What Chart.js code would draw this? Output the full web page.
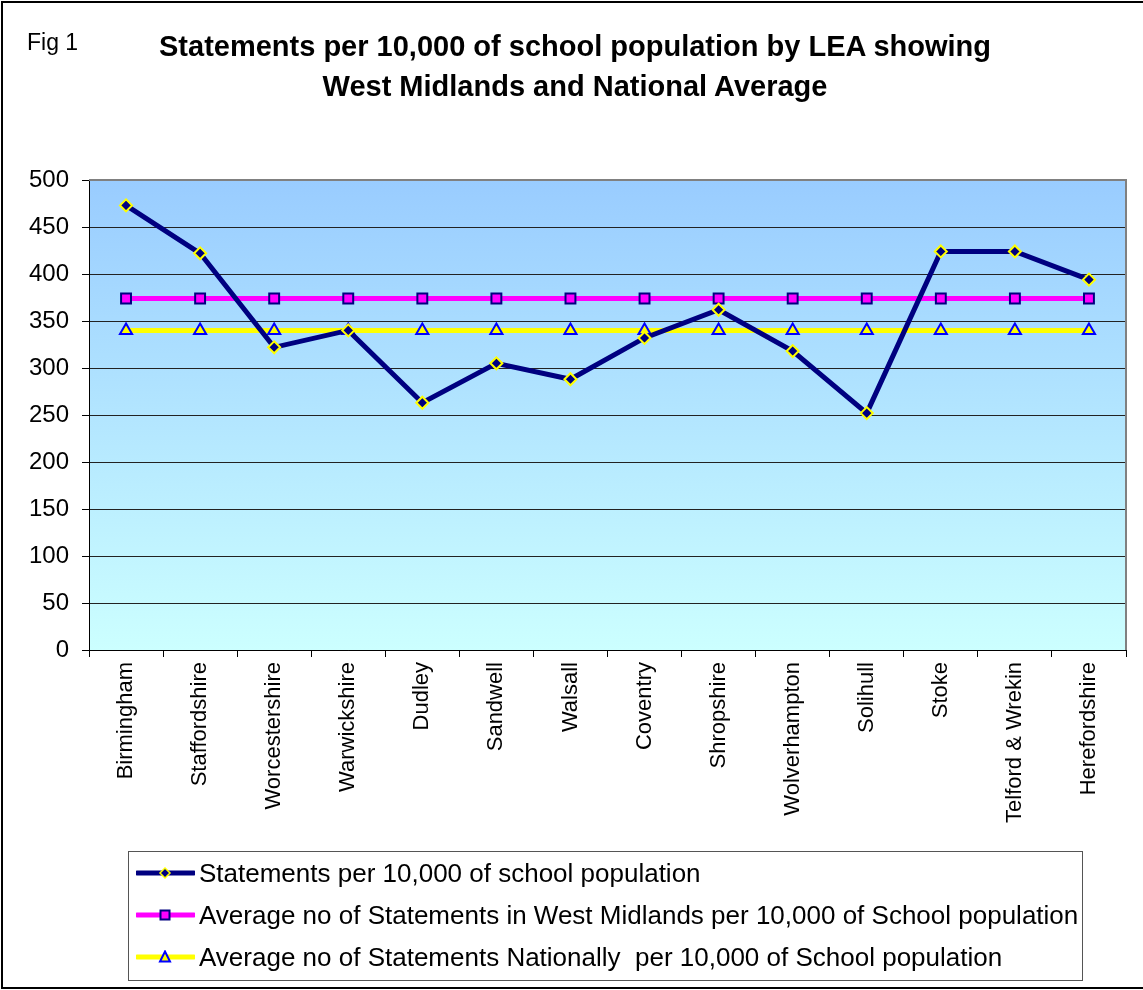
<!DOCTYPE html>
<html>
<head>
<meta charset="utf-8">
<script src="https://cdn.jsdelivr.net/npm/chart.js@4/dist/chart.umd.min.js"></script>
<style>
  html, body { margin: 0; padding: 0; background: #fff; }
  body { width: 1143px; height: 990px; position: relative; overflow: hidden; font-family: "Liberation Sans", Arial, sans-serif; }
  #frame { position: absolute; left: 1px; top: 1px; width: 1150px; height: 984px; border-left: 2px solid #000; border-top: 2px solid #000; border-bottom: 2px solid #000; }
  #wrap { position: absolute; left: 0; top: 0; width: 1143px; height: 990px; }
  #fig { position: absolute; left: 27px; top: 29px; font-size: 23px; color: #000; }
  .title { position: absolute; left: 0; width: 1150px; text-align: center; font-weight: bold; font-size: 29px; color: #000; white-space: nowrap; }
  #legend { position: absolute; left: 128px; top: 851px; width: 953px; height: 128px; border: 1px solid #555; background: #fff; }
  .row { position: absolute; left: 0; height: 40px; display: flex; align-items: center; }
  .row svg { margin-left: 7px; }
  .row span { font-size: 26px; margin-left: 4px; white-space: pre; color: #000; }
</style>
</head>
<body>
<div id="wrap"><canvas id="c" width="1143" height="990"></canvas></div>
<div id="frame"></div>
<div id="fig">Fig 1</div>
<div class="title" id="t1" style="top:30px;">Statements per 10,000 of school population by LEA showing</div>
<div class="title" id="t2" style="top:70px;">West Midlands and National Average</div>
<div id="legend"></div>
<script>
const categories = ["Birmingham","Staffordshire","Worcestershire","Warwickshire","Dudley","Sandwell","Walsall","Coventry","Shropshire","Wolverhampton","Solihull","Stoke","Telford & Wrekin","Herefordshire"];
const statements = [473, 422, 322, 340, 263, 305, 288, 332, 362, 318, 252, 424, 424, 394];
const westMidlandsAvg = [374, 374, 374, 374, 374, 374, 374, 374, 374, 374, 374, 374, 374, 374];
const nationalAvg = [340, 340, 340, 340, 340, 340, 340, 340, 340, 340, 340, 340, 340, 340];
const seriesNames = [
  "Statements per 10,000 of school population",
  "Average no of Statements in West Midlands per 10,000 of School population",
  "Average no of Statements Nationally  per 10,000 of School population"
];
const yTicks = [0, 50, 100, 150, 200, 250, 300, 350, 400, 450, 500];

const FONT = '"Liberation Sans", Arial, sans-serif';

const bgPlugin = {
  id: 'bg',
  beforeDraw(chart) {
    const {ctx, chartArea: a} = chart;
    const g = ctx.createLinearGradient(0, a.top, 0, a.bottom);
    g.addColorStop(0, '#99CCFF');
    g.addColorStop(1, '#CCFFFF');
    ctx.save();
    ctx.fillStyle = g;
    ctx.fillRect(a.left, a.top, a.right - a.left, a.bottom - a.top);
    ctx.restore();
  },
  beforeDatasetsDraw(chart) {
    const {ctx, chartArea: a} = chart;
    ctx.save();
    ctx.strokeStyle = '#808080';
    ctx.lineWidth = 2;
    ctx.beginPath();
    ctx.moveTo(a.left, a.top);
    ctx.lineTo(a.right, a.top);
    ctx.lineTo(a.right, a.bottom);
    ctx.stroke();
    ctx.restore();
  }
};

new Chart(document.getElementById('c'), {
  type: 'line',
  data: {
    labels: categories,
    datasets: [
      { label: seriesNames[0], data: statements, borderColor: '#000080', borderWidth: 5, pointStyle: 'rectRot', pointRadius: 6, pointBackgroundColor: '#000080', pointBorderColor: '#FFFF00', pointBorderWidth: 2, tension: 0 },
      { label: seriesNames[1], data: westMidlandsAvg, borderColor: '#FF00FF', borderWidth: 5, pointStyle: 'rect', pointRadius: 7, pointBackgroundColor: '#FF00FF', pointBorderColor: '#000080', pointBorderWidth: 2, tension: 0 },
      { label: seriesNames[2], data: nationalAvg, borderColor: '#FFFF00', borderWidth: 5, pointStyle: 'triangle', pointRadius: 7, pointBackgroundColor: '#FFFF00', pointBorderColor: '#0000FF', pointBorderWidth: 2, tension: 0 }
    ]
  },
  options: {
    responsive: false,
    animation: false,
    layout: { padding: { left: 0, top: 180, right: 17, bottom: 0 } },
    plugins: { legend: { display: false }, tooltip: { enabled: false }, title: { display: false } },
    scales: {
      x: {
        type: 'category',
        offset: true,
        grid: { offset: true, drawOnChartArea: false, drawTicks: true, tickLength: 7, color: '#000', lineWidth: 1 },
        border: { display: true, color: '#000', width: 1 },
        ticks: { autoSkip: false, minRotation: 90, maxRotation: 90, padding: 5, color: '#000', font: { family: FONT, size: 22 } },
        afterFit(s) { s.height = 340; s.paddingLeft = 0; s.paddingRight = 0; }
      },
      y: {
        min: 0, max: 500,
        afterBuildTicks(s) { s.ticks = yTicks.map(v => ({ value: v })); },
        grid: { color: '#222', lineWidth: 1, drawTicks: true, tickLength: 7, tickColor: '#000' },
        border: { display: true, color: '#000', width: 1 },
        ticks: { padding: 13, color: '#000', font: { family: FONT, size: 24 } },
        afterFit(s) { s.width = 89; s.paddingTop = 0; s.paddingBottom = 0; }
      }
    }
  },
  plugins: [bgPlugin]
});

// HTML legend
const legendSpecs = [
  { line: '#000080', marker: '<polygon points="29,2 34,7 29,12 24,7" fill="#000080" stroke="#FFFF00" stroke-width="1.5"/>' },
  { line: '#FF00FF', marker: '<rect x="24.5" y="2.5" width="9" height="9" fill="#FF00FF" stroke="#000080" stroke-width="2"/>' },
  { line: '#FFFF00', marker: '<polygon points="29,1.5 34,11.5 24,11.5" fill="#FFFF00" stroke="#0000FF" stroke-width="2"/>' }
];
const legend = document.getElementById('legend');
const rowTops = [1, 43, 85];
seriesNames.forEach((name, i) => {
  const row = document.createElement('div');
  row.className = 'row';
  row.style.top = rowTops[i] + 'px';
  row.innerHTML = '<svg width="59" height="14" viewBox="0 0 59 14"><line x1="1" y1="7" x2="58" y2="7" stroke="' + legendSpecs[i].line + '" stroke-width="5" stroke-linecap="round"/>' + legendSpecs[i].marker + '</svg><span></span>';
  row.querySelector('span').textContent = name;
  legend.appendChild(row);
});
</script>
</body>
</html>
